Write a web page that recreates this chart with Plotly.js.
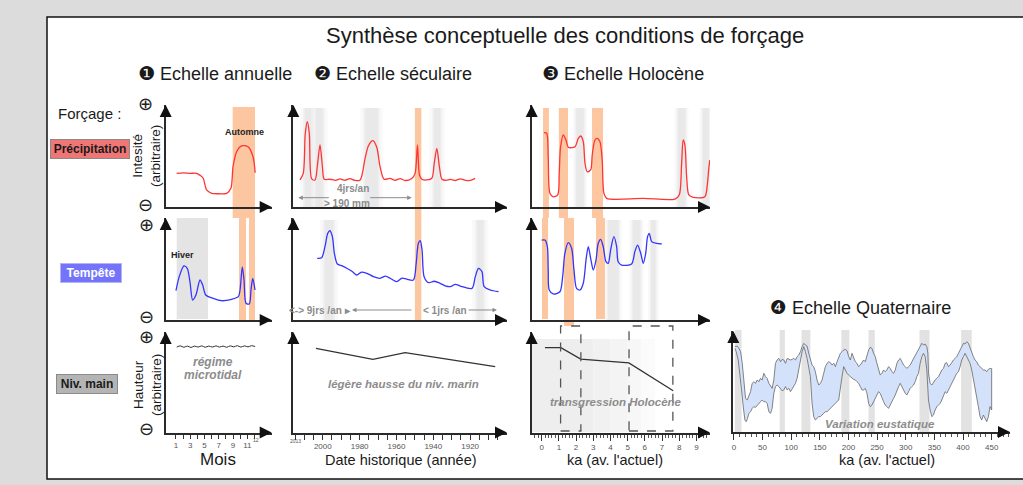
<!DOCTYPE html>
<html><head><meta charset="utf-8">
<script src="https://cdn.plot.ly/plotly-3.0.1.min.js"></script>
<style>html,body{margin:0;padding:0;background:#dcdcdc;}#chart{width:1023px;height:485px;}</style>
</head><body><div id="chart"></div>
<script>
// ---------------- DATA ----------------
// 1 - annual scale (months)
const annualMonths = [1,2,3,4,5,6,7,8,9,10,11,12];
const annualTickText = ['1','','3','','5','','7','','9','','11',''];
const annualPrecipMonth = [1.1, 2.0, 3.0, 3.9, 4.4, 4.8, 5.3, 6.0, 7.0, 8.1, 8.7, 9.0, 9.5, 10.2, 11.1, 11.8, 12.1];
const annualPrecipValue = [3.3, 3.35, 3.3, 3.3, 3.1, 2.84, 1.67, 1.34, 1.3, 1.34, 1.83, 3.95, 5.42, 6.0, 5.9, 4.93, 3.36];
const annualStormMonth = [1.0, 1.46, 2.12, 2.58, 2.96, 3.34, 3.8, 4.37, 4.74, 5.17, 6.23, 7.41, 8.81, 9.74, 9.98, 10.3, 10.54, 10.82, 11.28, 11.52, 11.76, 12.08];
const annualStormValue = [2.87, 4.25, 5.3, 5.07, 3.75, 1.96, 2.45, 3.92, 3.43, 2.45, 2.12, 1.89, 2.03, 2.29, 2.94, 5.2, 3.92, 1.64, 1.57, 2.94, 4.08, 2.94];
const annualSeaMonth = [1.1,1.6,2.1,2.6,3.1,3.6,4.1,4.6,5.1,5.6,6.1,6.6,7.1,7.6,8.1,8.6,9.1,9.6,10.1,10.6,11.1,11.6,12.1];
const annualSeaValue = [8.5,8.62,8.48,8.6,8.46,8.6,8.5,8.62,8.48,8.6,8.5,8.62,8.5,8.6,8.48,8.62,8.52,8.64,8.5,8.62,8.52,8.64,8.55];
const annualAutumnBand = [8.95, 12.08];
const annualStormBands = [[9.84, 10.82], [11.24, 12.08]];
const annualWinterBand = [1.1, 5.49];

// 2 - secular scale (years)
const secularTickVals = [2015,2010,2005,2000,1995,1990,1985,1980,1975,1970,1965,1960,1955,1950,1945,1940,1935,1930,1925,1920,1915,1910,1905];
const secularTickText = ['','','','2000','','','','1980','','','','1960','','','','1940','','','','1920','','',''];
const secularPrecipYear = [2012.4,2010.6,2009.5,2008.4,2007.3,2006.0,2004.2,2003.0,2001.5,2000.2,1999.2,1996.1,1993.0,1990.6,1988.0,1985.2,1982.5,1979.7,1977.0,1975.2,1972.8,1970.7,1968.9,1966.7,1963.5,1960.7,1958.0,1955.3,1951.7,1949.9,1948.6,1947.5,1946.2,1943.5,1940.8,1939.5,1938.1,1936.7,1935.3,1933.0,1930.8,1928.0,1925.4,1922.5,1920.0,1917.3];
const secularPrecipValue = [2.65,3.3,7.2,8.36,7.2,2.75,2.65,3.95,6.08,3.95,2.72,2.72,2.62,2.75,2.62,2.78,2.6,2.65,4.8,6.0,6.5,5.85,3.95,2.72,2.8,2.62,2.78,2.6,2.8,3.3,6.08,3.14,2.72,2.65,2.82,4.28,5.75,3.95,2.72,2.62,2.7,2.6,2.75,2.62,2.6,2.8];
const secularStormYear = [2003.0,2000.6,1998.8,1997.3,1996.1,1994.8,1993.7,1992.1,1989.5,1987.0,1984.0,1981.5,1979.0,1976.1,1972.5,1968.9,1966.0,1963.4,1959.8,1957.0,1954.4,1950.8,1949.3,1948.1,1947.1,1946.1,1945.0,1942.6,1939.5,1936.3,1933.5,1930.8,1928.0,1925.4,1919.0,1917.2,1915.5,1913.6,1912.4,1909.1,1904.6];
const secularStormValue = [6.05,6.11,7.19,8.5,8.75,8.17,6.54,5.49,5.3,5.07,4.75,4.41,4.7,4.58,4.25,4.09,4.3,4.09,3.76,4.1,4.0,3.92,5.56,7.52,7.77,6.86,4.25,3.66,3.8,3.6,3.35,3.27,3.5,3.33,3.1,4.25,5.07,4.74,3.27,2.94,2.78];
const secularSeaYear = [2003.7, 1972.8, 1955.3, 1906.4];
const secularSeaValue = [8.38, 7.28, 7.94, 6.55];
const secularOrangeBand = [1950.0, 1946.5];
const secularGrayR1 = [[2010.7,2005.5],[2004.5,1999.0],[1978,1969],[1940.6,1935.2]];
const secularGrayR2 = [[1999.9,1993.3],[1917.3,1911.8]];

// 3 - Holocene scale (ka)
const holoPrecipKa = [0.13,0.29,0.38,0.48,0.67,0.93,1.02,1.10,1.26,1.41,1.55,1.94,2.13,2.27,2.42,2.52,2.65,2.85,2.94,3.10,3.23,3.39,3.52,3.62,3.78,5.91,7.75,8.0,8.14,8.23,8.33,8.43,8.56,8.81,9.49,9.62,9.72,9.78];
const holoPrecipValue = [7.29,7.23,4.93,1.34,1.0,1.18,3.3,5.91,7.06,6.57,5.85,5.91,6.73,6.96,6.4,4.28,3.46,3.63,5.1,6.57,6.73,6.4,4.61,1.34,0.85,0.85,0.78,1.18,4.28,6.57,6.08,2.97,1.18,0.95,1.01,1.99,3.79,4.6];
const holoStormKa = [0.0,0.19,0.33,0.38,0.44,0.67,1.06,1.22,1.35,1.55,1.74,1.88,2.03,2.23,2.42,2.58,2.71,2.85,3.0,3.16,3.29,3.43,3.58,3.74,3.87,4.01,4.20,4.36,4.45,4.65,5.23,5.42,5.58,5.76,5.91,6.05,6.16,6.26,6.40,6.69,6.98];
const holoStormValue = [7.84,7.84,7.19,4.9,2.94,2.55,2.77,4.25,6.54,7.58,7.03,4.9,3.1,2.94,3.6,5.88,7.19,6.05,4.9,5.88,7.52,7.91,7.19,5.72,5.56,6.86,8.17,7.19,5.72,5.39,5.49,6.7,7.35,6.54,5.56,6.54,8.17,8.5,7.68,7.52,7.45];
const holoSeaKa = [0.19, 1.12, 2.27, 5.07, 7.65];
const holoSeaValue = [8.44, 8.44, 7.31, 6.92, 4.16];
const holoOrangeR1 = [[0.08,0.42],[1.0,1.53],[2.93,3.57]];
const holoOrangeR2 = [[0.02,0.37],[1.3,1.88],[3.16,3.68]];
const holoGrayR1 = [[1.94,2.52],[7.85,8.43],[9.3,9.79]];
const holoGrayR2 = [[3.78,4.55],[5.23,5.81],[6.3,6.7]];
const holoDashedBoxes = [[1.10,2.28],[5.08,7.63]];

// 4 - Quaternary scale (ka)
const quatUpperKa = [1.8,5.9,8.8,11.7,14.6,17.5,20.4,23.3,26.2,29.1,32.0,34.9,37.8,40.7,43.6,46.5,49.4,52.3,55.2,58.1,61.0,63.9,66.8,69.7,72.6,75.5,78.4,81.4,84.3,87.2,90.1,93.0,95.9,98.8,101.7,104.6,107.5,110.4,113.3,116.2,119.1,122.0,124.9,127.8,130.7,133.6,136.5,139.4,142.3,145.2,148.1,151.0,153.9,156.8,159.7,162.6,165.6,168.5,171.4,174.3,177.2,180.1,183.0,185.9,188.8,191.7,194.6,197.5,200.4,203.3,206.2,209.1,212.0,214.9,217.8,220.7,223.6,226.5,229.4,235.2,238.1,241.0,243.9,246.8,249.7,252.6,255.5,258.4,261.3,264.2,267.1,270.0,273.0,275.9,278.8,281.7,284.6,287.5,290.4,293.3,296.2,299.1,302.0,304.9,307.8,310.7,313.6,316.5,319.4,322.3,325.2,328.1,331.0,333.9,336.8,338.6,339.7,342.6,345.5,348.4,351.3,354.3,357.2,360.1,363.0,365.9,368.8,371.7,374.6,377.5,380.4,383.3,386.2,389.1,392.0,394.9,397.8,400.7,403.6,406.5,409.4,412.3,415.2,418.1,421.0,423.9,426.8,429.7,432.7,435.6,438.5,441.4,444.3,447.2,450.0];
const quatUpperValue = [8.45,8.51,8.28,7.95,6.80,5.15,3.33,3.17,3.66,3.99,4.82,4.98,4.82,5.15,4.98,5.31,5.15,5.81,5.48,5.31,4.82,4.49,4.32,5.15,6.80,7.13,7.29,6.96,7.19,7.13,6.80,7.29,7.19,7.13,7.19,7.29,7.13,7.46,7.62,7.95,8.45,8.78,8.61,8.51,7.79,7.13,6.63,6.47,5.97,5.15,4.65,4.82,5.15,5.81,6.47,6.80,6.96,6.86,6.63,6.80,6.47,6.96,7.46,7.79,7.95,8.12,8.18,8.05,7.46,7.13,7.79,7.29,6.96,6.80,6.47,6.63,6.96,7.13,6.96,8.12,8.38,8.28,7.79,7.46,6.80,6.14,5.64,5.81,6.14,5.97,6.14,6.47,6.30,5.97,5.81,6.14,6.80,7.13,7.29,6.96,6.63,6.47,6.30,6.47,6.63,6.96,7.29,7.62,7.95,8.28,8.45,8.78,8.61,8.71,8.45,7.79,5.81,4.82,4.65,4.98,5.15,5.31,5.48,5.81,6.14,6.30,6.80,6.86,6.47,6.63,6.96,7.13,7.29,7.46,7.79,8.12,8.45,8.78,8.71,8.94,8.78,8.28,7.79,7.46,7.13,6.96,6.63,6.47,6.30,6.14,6.14,5.97,6.20,6.30,6.27];
const quatLowerKa = [1.8,4.1,7.6,9.9,11.7,13.4,15.7,17.5,19.2,21.5,23.9,26.2,29.1,32.0,34.9,37.8,40.7,43.6,46.5,49.4,52.3,55.2,58.1,61.0,63.9,66.8,69.7,72.6,75.5,78.4,81.4,84.3,87.2,90.1,93.0,95.9,98.8,101.7,104.6,107.5,110.4,113.3,116.2,119.1,122.0,124.9,127.8,130.7,133.6,136.5,139.4,142.3,145.2,148.1,151.0,153.9,156.8,159.7,162.6,165.6,168.5,171.4,174.3,177.2,180.1,183.0,185.9,188.8,191.7,194.6,197.5,200.4,203.3,206.2,209.1,212.0,214.9,217.8,220.7,223.6,226.5,229.4,232.3,235.2,238.1,241.0,243.9,246.8,249.7,252.6,255.5,258.4,261.3,264.2,267.1,270.0,273.0,275.9,278.8,281.7,284.6,287.5,290.4,293.3,296.2,299.1,302.0,304.9,307.8,310.7,313.6,316.5,319.4,322.3,325.2,328.1,331.0,333.9,336.8,338.6,339.7,342.6,345.5,348.4,351.3,354.3,357.2,360.1,363.0,365.9,368.8,371.7,374.6,377.5,380.4,383.3,386.2,389.1,392.0,394.9,397.8,400.7,403.6,406.5,409.4,412.3,415.2,418.1,421.0,423.9,426.8,429.7,432.7,435.6,438.5,441.4,444.3,447.2,450.0];
const quatLowerValue = [8.28,7.95,7.13,6.14,5.15,4.16,2.84,1.85,1.19,1.02,1.35,1.85,2.01,2.34,2.51,2.44,2.67,2.84,3.00,3.17,3.00,3.00,2.84,2.01,1.85,2.34,3.83,4.49,4.65,4.49,4.32,4.09,4.16,4.49,4.16,4.32,3.99,4.16,4.49,4.82,5.31,5.97,6.96,7.95,8.45,7.95,7.29,6.63,5.48,2.84,1.52,1.19,1.35,1.52,1.52,1.68,1.85,2.01,2.01,2.18,2.34,2.51,2.67,2.84,3.00,3.17,4.16,5.48,6.47,6.14,5.81,5.64,5.48,5.31,5.21,5.15,4.98,4.82,4.49,4.16,4.16,4.32,3.83,2.84,2.51,2.67,2.84,3.17,3.66,3.99,3.83,3.50,3.00,2.67,2.51,2.34,2.67,3.00,3.33,3.66,3.99,4.49,4.82,4.49,4.16,3.83,3.66,3.99,4.32,4.49,4.65,4.98,5.48,5.81,6.80,7.46,7.79,7.46,6.14,4.49,3.17,2.18,1.52,1.68,2.18,2.51,2.67,2.84,3.17,3.50,3.99,3.83,4.16,4.49,4.82,5.15,5.48,5.81,5.97,6.47,7.13,7.46,7.79,7.46,7.13,6.80,6.14,5.31,4.49,3.50,2.51,1.52,1.19,1.68,1.35,1.02,1.52,2.51,2.18];
const quatGlacialBands = [[1.8,13.4],[80,89],[118,133.6],[187.6,201.6],[235,246],[324,341.5],[396.7,415.3]];

// ---------------- LAYOUT HELPERS ----------------
const W = 1023, H = 485;
const px = v => v / W;
const py = v => 1 - v / H;
const COL = {c1:[165.7,271.7], c2:[293.3,507], c3:[531.7,710], c4:[733.3,1010]};
const ROW = {r1:[105,207], r2:[218,320], r3:[332,432.5], r4:[331,432]};
const FONT = 'Liberation Sans, Arial, sans-serif';
const NARROW = 'Liberation Sans Narrow, Liberation Sans, Arial, sans-serif';
const RED = '#ff3434', BLUE = '#3434ff', ORANGE = '#fbc6a0', GRAYTXT = '#8c8c8c';

const panels = {
  1: ['c1','r1',[-0.44,14.42]], 2: ['c2','r1',[2016,1900]], 3: ['c3','r1',[-0.58,9.79]],
  4: ['c1','r2',[-0.44,14.42]], 5: ['c2','r2',[2016,1900]], 6: ['c3','r2',[-0.58,9.79]],
  7: ['c1','r3',[-0.44,14.42]], 8: ['c2','r3',[2016,1900]], 9: ['c3','r3',[-0.58,9.79]],
  10: ['c4','r4',[-1,482]]
};

const layout = {
  width: W, height: H, margin: {l:0,r:0,t:0,b:0},
  paper_bgcolor: '#dcdcdc', plot_bgcolor: 'rgba(0,0,0,0)',
  showlegend: false, font: {family: FONT, color: '#222'},
  shapes: [], annotations: []
};

const tickFont = {family: FONT, size: 8, color: '#555'};
for (const [id, [c, r, xr]] of Object.entries(panels)) {
  const sx = id === '1' ? '' : id;
  layout['xaxis' + sx] = {
    domain: [px(COL[c][0]), px(COL[c][1])], range: xr, autorange: false,
    anchor: 'y' + sx, showline: true, linecolor: '#2a2a2a', linewidth: 2,
    showgrid: false, zeroline: false, ticks: '', showticklabels: false, fixedrange: true
  };
  layout['yaxis' + sx] = {
    domain: [py(ROW[r][1]), py(ROW[r][0])], range: [0, 10], autorange: false,
    anchor: 'x' + sx, showline: true, linecolor: '#2a2a2a', linewidth: 2,
    showgrid: false, zeroline: false, ticks: '', showticklabels: false, fixedrange: true
  };
  layout.annotations.push({xref:'paper', yref:'paper', x: px(COL[c][1]), y: py(ROW[r][1]), ax: -12, ay: 0,
    text: '', showarrow: true, arrowhead: 2, arrowsize: 1.2, arrowwidth: 2, arrowcolor: '#111'});
  layout.annotations.push({xref:'paper', yref:'paper', x: px(COL[c][0]), y: py(ROW[r][0]), ax: 0, ay: 12,
    text: '', showarrow: true, arrowhead: 2, arrowsize: 1.2, arrowwidth: 2, arrowcolor: '#111'});
}
Object.assign(layout.xaxis7, {ticks:'outside', ticklen:4, tickwidth:1, tickcolor:'#333', showticklabels:true,
  tickvals: annualMonths, ticktext: annualTickText, tickfont: tickFont});
Object.assign(layout.xaxis8, {ticks:'outside', ticklen:5, tickwidth:1, tickcolor:'#333', showticklabels:true,
  tickvals: secularTickVals, ticktext: secularTickText, tickfont: tickFont});
Object.assign(layout.xaxis9, {ticks:'outside', ticklen:6, tickwidth:1, tickcolor:'#333', showticklabels:true,
  tickmode:'linear', tick0: 0, dtick: 1, tickfont: tickFont,
  minor: {ticks:'outside', ticklen:3, tickcolor:'#555', dtick:0.2, tick0:0, showgrid:false}});
Object.assign(layout.xaxis10, {ticks:'outside', ticklen:6, tickwidth:1, tickcolor:'#333', showticklabels:true,
  tickmode:'linear', tick0: 0, dtick: 50, tickfont: tickFont,
  minor: {ticks:'outside', ticklen:3, tickcolor:'#555', dtick:10, tick0:0, showgrid:false}});

// ---------------- SHAPES ----------------
const S = layout.shapes;
S.push({type:'rect', xref:'paper', yref:'paper', x0: px(47), x1: 1.02, y0: py(479), y1: py(17),
  fillcolor:'#ffffff', line:{color:'#111', width:1.5}, layer:'below'});
function band(xref, a, b, top, bottom, color, op) {
  S.push({type:'rect', xref: xref, yref:'paper', x0:a, x1:b, y0: py(bottom), y1: py(top),
    fillcolor: color, opacity: op === undefined ? 1 : op, line:{width:0}, layer:'below'});
}
function blur(xref, a, b, top, bottom, pad) {
  const lo = Math.min(a,b), hi = Math.max(a,b);
  band(xref, lo - pad, hi + pad, top, bottom, '#d4d4d4', 0.15);
  band(xref, lo, hi, top, bottom, '#d4d4d4', 0.2);
  band(xref, lo + pad*0.6, hi - pad*0.6, top, bottom, '#d4d4d4', 0.25);
}
band('x', annualWinterBand[0], annualWinterBand[1], 218, 319, '#e4e4e4');
band('x', annualAutumnBand[0], annualAutumnBand[1], 107, 218, ORANGE);
annualStormBands.forEach(b => band('x4', b[0], b[1], 218, 320, ORANGE));
secularGrayR1.forEach(b => blur('x2', b[0], b[1], 108, 207, 1.6));
secularGrayR2.forEach(b => blur('x5', b[0], b[1], 220, 320, 1.6));
band('x2', secularOrangeBand[0], secularOrangeBand[1], 108, 320, ORANGE);
holoGrayR1.forEach(b => blur('x3', b[0], b[1], 108, 207, 0.12));
holoGrayR2.forEach(b => blur('x6', b[0], b[1], 220, 320, 0.12));
holoOrangeR1.forEach(b => band('x3', b[0], b[1], 108, 218, ORANGE));
holoOrangeR2.forEach((b,i) => band('x6', b[0], b[1], 218, i === 1 ? 326 : 319, ORANGE));
[[ -0.58, 3.0, '#eeeeee'], [3.0, 4.0, '#f1f1f1'], [4.0, 5.0, '#f4f4f4'], [5.0, 5.8, '#f7f7f7'], [5.8, 6.6, '#fbfbfb']]
  .forEach(g => band('x9', g[0], g[1], 339, 432, g[2]));
holoDashedBoxes.forEach(b => S.push({type:'rect', xref:'x9', yref:'paper', x0:b[0], x1:b[1], y0: py(431), y1: py(326),
  line:{color:'#555', width:1.3, dash:'dash'}, fillcolor:'rgba(0,0,0,0)', layer:'above'}));
quatGlacialBands.forEach(b => band('x10', b[0], b[1], 330, 432, '#e2e2e2'));

// ---------------- TEXT ----------------
const A = layout.annotations;
function txt(t, x, y, size, opts) {
  A.push(Object.assign({xref:'paper', yref:'paper', x: px(x), y: py(y), text: t, showarrow:false,
    xanchor:'center', yanchor:'middle', font:{family: FONT, size: size, color:'#1a1a1a'}}, opts || {}));
}
const num = n => '<span style="font-family:DejaVu Sans;font-size:19px">' + n + '</span>';
txt('Synthèse conceptuelle des conditions de forçage', 565, 36, 22);
txt(num('❶') + ' Echelle annuelle', 215, 73, 18);
txt(num('❷') + ' Echelle séculaire', 393, 73, 18);
txt(num('❸') + ' Echelle Holocène', 623, 73, 18);
txt(num('❹') + ' Echelle Quaternaire', 860, 307, 18);
txt('Forçage :', 89, 113, 15);
txt('<b>Précipitation</b>', 90, 148.5, 12, {bgcolor:'#f07676', bordercolor:'#8a8a8a', borderwidth:1, borderpad:2, width:74, height:14});
txt('<b>Tempête</b>', 90.5, 273, 12, {bgcolor:'#7474fb', bordercolor:'#b5b5f5', borderwidth:1, borderpad:2, width:56, height:14, font:{family:FONT, size:12, color:'#ffffff'}});
txt('<b>Niv. main</b>', 86.7, 384, 12, {bgcolor:'#b4b4b4', bordercolor:'#8a8a8a', borderwidth:1, borderpad:2, width:56, height:14});
txt('Intesité<br>(arbitraire)', 147, 156, 13.5, {textangle:-90});
txt('Hauteur<br>(arbitraire)', 147, 385, 13.5, {textangle:-90});
const pm = {family:'DejaVu Sans', size:18, color:'#222'};
[[145,103,'⊕'],[145,204,'⊖'],[146,224,'⊕'],[146,316.5,'⊖'],[146,336,'⊕'],[146,428,'⊖']]
  .forEach(p => txt(p[2], p[0], p[1], 18, {font: pm, height: 15}));
const narrowB = (size, color) => ({font:{family: NARROW, size: size, color: color}});
txt('<b>Automne</b>', 244.3, 131.7, 9, narrowB(9, '#222'));
txt('<b>Hiver</b>', 182.5, 255, 9, narrowB(9, '#222'));
txt('<b>4jrs/an</b>', 353, 188.3, 10, narrowB(10, GRAYTXT));
txt('<b>&gt; 190 mm</b>', 347, 203.3, 10, narrowB(10, GRAYTXT));
txt('<b>&lt;-&gt; 9jrs /an ▸</b>', 320, 310, 10, narrowB(10, GRAYTXT));
txt('<b>&lt; 1jrs /an</b>', 445, 310, 10, narrowB(10, GRAYTXT));
const ital = size => ({font:{family: FONT, size: size, color: GRAYTXT}});
txt('<b><i>régime</i></b>', 213.3, 361.7, 12, ital(12));
txt('<b><i>microtidal</i></b>', 213.3, 375.3, 12, ital(12));
txt('<b><i>légère hausse du niv. marin</i></b>', 403.3, 384, 11.5, ital(11.5));
txt('<b><i>transgression Holocène</i></b>', 616, 401.7, 11.5, ital(11.5));
txt('<b><i>Variation eustatique</i></b>', 880, 424, 11.5, ital(11.5));
txt('Mois', 218, 459, 17);
txt('Date historique (année)', 401, 460, 14.5);
txt("ka (av. l'actuel)", 615, 460, 14.5);
txt("ka (av. l'actuel)", 886.7, 460, 14.5);
txt('12', 255.5, 440, 5, {font:{family:FONT, size:5, color:'#555'}});
txt('2013', 295, 441, 5, {font:{family:FONT, size:5, color:'#555'}});
function garrow(hx, hy, dx) {
  A.push({xref:'paper', yref:'paper', x: px(hx), y: py(hy), ax: dx, ay: 0, text:'', showarrow:true,
    arrowhead: 2, arrowsize: 0.9, arrowwidth: 1, arrowcolor:'#8c8c8c'});
}
garrow(298.3, 197.7, 32);
garrow(411.7, 197.7, -43);
garrow(352, 310, 61);
garrow(497, 310, -30);

// ---------------- TRACES ----------------
const line = (x, y, xa, ya, color, w, shape) => ({type:'scatter', mode:'lines', x: x, y: y, xaxis: xa, yaxis: ya,
  line:{color: color, width: w, shape: shape || 'spline', smoothing: 0.8}, hoverinfo:'skip'});
const quatPolyX = quatUpperKa.concat(quatLowerKa.slice().reverse());
const quatPolyY = quatUpperValue.concat(quatLowerValue.slice().reverse());
const data = [
  {type:'scatter', mode:'lines', x: quatPolyX, y: quatPolyY, xaxis:'x10', yaxis:'y10',
    fill:'toself', fillcolor:'#d3e2fa', line:{color:'#666', width:0.8}, hoverinfo:'skip'},
  line(annualPrecipMonth, annualPrecipValue, 'x', 'y', RED, 1.3),
  line(secularPrecipYear, secularPrecipValue, 'x2', 'y2', RED, 1.3),
  line(holoPrecipKa, holoPrecipValue, 'x3', 'y3', RED, 1.3),
  line(annualStormMonth, annualStormValue, 'x4', 'y4', BLUE, 1.3),
  line(secularStormYear, secularStormValue, 'x5', 'y5', BLUE, 1.3),
  line(holoStormKa, holoStormValue, 'x6', 'y6', BLUE, 1.3),
  line(annualSeaMonth, annualSeaValue, 'x7', 'y7', '#333', 1, 'spline'),
  line(secularSeaYear, secularSeaValue, 'x8', 'y8', '#333', 1.3, 'linear'),
  line(holoSeaKa, holoSeaValue, 'x9', 'y9', '#333', 1.3, 'linear')
];

Plotly.newPlot('chart', data, layout, {displayModeBar:false, staticPlot:true});
</script>
</body></html>
